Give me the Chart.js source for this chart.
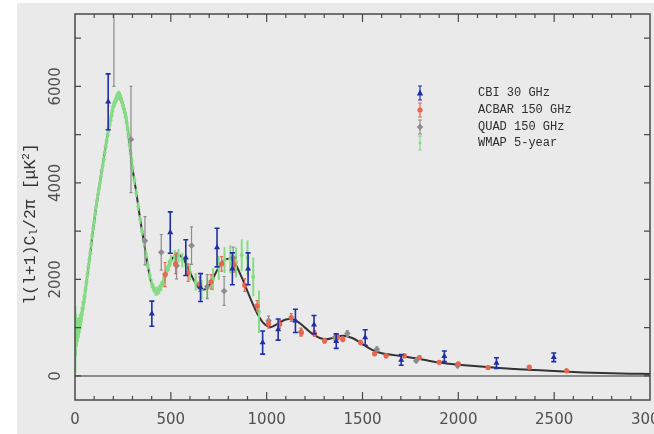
<!DOCTYPE html>
<html><head><meta charset="utf-8">
<script src="https://cdn.jsdelivr.net/npm/chart.js@4.4.1/dist/chart.umd.min.js"></script>
<style>html,body{margin:0;padding:0;background:#fff;}canvas{display:block;}</style>
</head><body>
<canvas id="c" width="654" height="434"></canvas>
<script>
// ---- data ----
const xTickLabels = [0, 500, 1000, 1500, 2000, 2500, 3000];
const yTickLabels = [0, 2000, 4000, 6000];
const legendLabels = ["CBI 30 GHz", "ACBAR 150 GHz", "QUAD 150 GHz", "WMAP 5-year"];

const theoryEll = [2,10,20,30,40,50,60,70,80,90,100,110,120,130,140,150,160,170,180,190,200,210,220,230,240,250,260,270,280,290,300,320,340,360,380,400,420,440,460,480,500,520,540,560,580,600,620,640,660,680,700,720,740,760,780,800,820,840,860,880,900,920,940,960,980,1000,1020,1050,1100,1150,1200,1250,1300,1350,1400,1450,1500,1550,1600,1650,1700,1750,1800,1850,1900,1950,2000,2100,2200,2300,2400,2500,2600,2700,2800,2900,3000];
const theoryVal = [700,800,950,1150,1400,1650,1950,2250,2550,2900,3200,3500,3750,4000,4250,4500,4750,5000,5200,5400,5580,5700,5790,5810,5750,5620,5450,5250,4950,4620,4300,3800,3250,2760,2280,1900,1740,1780,1960,2180,2380,2490,2510,2450,2320,2150,1980,1850,1790,1800,1880,2020,2180,2320,2400,2430,2400,2300,2130,1950,1750,1560,1380,1230,1110,1040,1010,1060,1170,1150,1000,840,760,790,830,780,660,540,470,440,410,380,350,310,275,250,230,200,170,140,120,100,80,65,55,45,40];

const cbiEll = [173,401,497,578,655,741,821,903,979,1060,1150,1247,1363,1514,1702,1927,2199,2498];
const cbiVal = [5680,1290,2970,2450,1830,2660,2220,2220,690,960,1140,1060,720,795,330,405,265,385];
const cbiErr = [580,260,430,370,290,400,330,330,240,220,240,190,150,160,110,110,110,90];

const acbarEll = [470,525,590,650,710,765,830,885,950,1010,1068,1128,1181,1250,1302,1370,1397,1490,1563,1623,1719,1797,1900,2000,2155,2370,2565];
const acbarVal = [2100,2320,2140,1900,1950,2320,2300,1880,1450,1080,1070,1210,900,880,730,800,760,690,460,415,415,380,280,250,172,180,105];
const acbarErr = [250,200,180,150,150,150,150,130,110,90,80,80,70,60,50,50,50,45,40,35,35,30,30,30,30,30,35];

const quadEll = [203,292,365,450,530,608,690,778,825,1010,1178,1356,1421,1575,1780,1996];
const quadVal = [8200,4900,2800,2560,2280,2700,1850,1760,2450,1140,910,795,880,550,315,210];
const quadErr = [2200,1100,500,370,270,390,250,300,220,100,80,60,60,50,40,40];

const wmapEll = [2,5,10,15,20,25,30,35,40,45,50,55,60,65,70,75,80,85,90,95,100,105,110,115,120,125,130,135,140,145,150,155,160,165,170,175,180,185,190,195,200,205,210,215,220,225,230,235,240,245,250,255,260,265,270,275,280,285,290,295,300,310,320,330,340,350,360,370,380,390,400,410,420,430,440,450,460,470,480,490,500,520,540,560,580,600,630,660,690,720,750,780,810,840,870,900,930,960];
const wmapVal = [750,850,900,950,1000,1080,1150,1270,1400,1520,1650,1800,1950,2100,2260,2400,2540,2720,2900,3050,3190,3350,3500,3630,3760,3880,4000,4130,4260,4370,4490,4630,4760,4880,5000,5100,5210,5300,5390,5490,5590,5640,5690,5740,5790,5810,5820,5790,5740,5680,5600,5530,5460,5360,5240,5110,4960,4790,4610,4460,4310,4050,3790,3510,3240,3000,2770,2520,2290,2080,1910,1820,1750,1760,1790,1860,1950,2060,2180,2290,2390,2480,2490,2400,2300,2150,1950,1790,1820,2000,2240,2400,2420,2350,2500,2450,2050,1330];
const wmapErr = [700,450,300,250,220,200,180,160,150,140,130,120,110,105,100,95,90,88,85,82,80,80,80,78,75,75,75,75,75,75,75,75,75,78,80,80,80,80,80,82,85,85,85,88,90,90,90,90,90,92,95,95,95,98,100,100,100,100,100,100,100,95,90,90,90,90,90,90,90,90,90,90,90,95,100,100,100,105,110,115,120,130,140,150,160,170,180,200,220,230,250,270,290,310,330,360,400,440];

// ---- styles ----
const COL_CBI = '#1f2fa6', COL_ACBAR = '#e8664e', COL_QUAD = '#8c8c8c', COL_WMAP = '#86dc86';
const pts = (xs, ys) => xs.map((x, i) => ({x: x, y: ys[i]}));

const errPlugin = {
  id: 'errbars',
  beforeDatasetDraw(chart, args) {
    const ds = chart.data.datasets[args.index];
    if (!ds.err) return;
    const {ctx, chartArea: a} = chart;
    const xs = chart.scales.x, ys = chart.scales.y;
    ctx.save();
    ctx.beginPath(); ctx.rect(a.left, a.top, a.right - a.left, a.bottom - a.top); ctx.clip();
    ctx.strokeStyle = ds.errColor || ds.borderColor;
    ctx.lineWidth = ds.errWidth || 1.5;
    ds.data.forEach((p, i) => {
      const px = xs.getPixelForValue(p.x);
      const y1 = ys.getPixelForValue(p.y - ds.err[i]);
      const y2 = ys.getPixelForValue(p.y + ds.err[i]);
      ctx.beginPath();
      ctx.moveTo(px, y1); ctx.lineTo(px, y2);
      if (ds.cap) {
        ctx.moveTo(px - ds.cap, y1); ctx.lineTo(px + ds.cap, y1);
        ctx.moveTo(px - ds.cap, y2); ctx.lineTo(px + ds.cap, y2);
      }
      ctx.stroke();
    });
    ctx.restore();
  }
};

const decoPlugin = {
  id: 'deco',
  beforeDraw(chart) {
    const ctx = chart.ctx;
    ctx.save();
    ctx.fillStyle = '#ffffff'; ctx.fillRect(0, 0, chart.width, chart.height);
    ctx.fillStyle = '#eaeaea'; ctx.fillRect(17, 3, chart.width - 17, chart.height - 3);
    ctx.restore();
  },
  beforeDatasetsDraw(chart) {
    const {ctx, chartArea: a} = chart;
    const y0 = chart.scales.y.getPixelForValue(0);
    ctx.save();
    ctx.strokeStyle = '#6a6a6a'; ctx.lineWidth = 1.5;
    ctx.beginPath(); ctx.moveTo(a.left, y0); ctx.lineTo(a.right, y0); ctx.stroke();
    ctx.restore();
  },
  afterDraw(chart) {
    const {ctx, chartArea: a} = chart;
    const xs = chart.scales.x, ys = chart.scales.y;
    ctx.save();
    // frame
    ctx.strokeStyle = '#4a4a4a'; ctx.lineWidth = 1.5;
    ctx.strokeRect(a.left, a.top, a.right - a.left, a.bottom - a.top);
    // ticks
    ctx.lineWidth = 1.2;
    for (let v = 100; v < 3000; v += 100) {
      const px = xs.getPixelForValue(v);
      const len = (v % 500 === 0) ? 8 : 4;
      ctx.beginPath();
      ctx.moveTo(px, a.bottom); ctx.lineTo(px, a.bottom - len);
      ctx.moveTo(px, a.top); ctx.lineTo(px, a.top + len);
      ctx.stroke();
    }
    for (let v = 0; v <= 7000; v += 1000) {
      const py = ys.getPixelForValue(v);
      ctx.beginPath();
      ctx.moveTo(a.left, py); ctx.lineTo(a.left + 6, py);
      ctx.moveTo(a.right, py); ctx.lineTo(a.right - 6, py);
      ctx.stroke();
    }
    // tick labels
    ctx.fillStyle = '#505050';
    ctx.font = '15px "DejaVu Sans"';
    ctx.textAlign = 'center'; ctx.textBaseline = 'middle';
    xTickLabels.forEach(v => ctx.fillText(String(v), xs.getPixelForValue(v), 420));
    yTickLabels.forEach(v => {
      ctx.save();
      ctx.translate(56, ys.getPixelForValue(v));
      ctx.rotate(-Math.PI / 2);
      ctx.fillText(String(v), 0, 0);
      ctx.restore();
    });
    // y axis title
    ctx.save();
    ctx.translate(31, 224);
    ctx.rotate(-Math.PI / 2);
    ctx.fillStyle = '#333333';
    const big = '16.5px "Liberation Mono"', small = '11px "Liberation Mono"';
    const parts = [['l(l+1)C', big, 0], ['l', small, 3], ['/2π [μK', big, 0], ['2', small, -5], [']', big, 0]];
    let total = 0;
    parts.forEach(p => { ctx.font = p[1]; total += ctx.measureText(p[0]).width; });
    let xx = -total / 2;
    ctx.textAlign = 'left';
    parts.forEach(p => { ctx.font = p[1]; ctx.fillText(p[0], xx, p[2]); xx += ctx.measureText(p[0]).width; });
    ctx.restore();
    // legend
    const rows = [93, 110, 127, 143];
    const cols = [COL_CBI, COL_ACBAR, COL_QUAD, COL_WMAP];
    const sx = 420;
    rows.forEach((ry, i) => {
      ctx.strokeStyle = cols[i]; ctx.fillStyle = cols[i]; ctx.lineWidth = 1.2;
      ctx.beginPath(); ctx.moveTo(sx, ry - 7); ctx.lineTo(sx, ry + 7);
      ctx.moveTo(sx - 2, ry - 7); ctx.lineTo(sx + 2, ry - 7);
      ctx.moveTo(sx - 2, ry + 7); ctx.lineTo(sx + 2, ry + 7); ctx.stroke();
      ctx.beginPath();
      if (i === 0) { ctx.moveTo(sx, ry - 3.5); ctx.lineTo(sx + 3.2, ry + 2.5); ctx.lineTo(sx - 3.2, ry + 2.5); ctx.closePath(); }
      else if (i === 1) { ctx.arc(sx, ry, 2.6, 0, Math.PI * 2); }
      else if (i === 2) { ctx.moveTo(sx, ry - 3.3); ctx.lineTo(sx + 3.3, ry); ctx.lineTo(sx, ry + 3.3); ctx.lineTo(sx - 3.3, ry); ctx.closePath(); }
      else { ctx.arc(sx, ry, 1.5, 0, Math.PI * 2); }
      ctx.fill();
      ctx.fillStyle = '#2e2e2e';
      ctx.font = '12px "Liberation Mono"';
      ctx.textAlign = 'left'; ctx.textBaseline = 'middle';
      ctx.fillText(legendLabels[i], 478, ry);
    });
    ctx.restore();
  }
};

new Chart(document.getElementById('c'), {
  type: 'scatter',
  data: {
    datasets: [
      {label: 'theory', type: 'line', data: pts(theoryEll, theoryVal), borderColor: '#333333', borderWidth: 2, pointRadius: 0, tension: 0.35, fill: false, order: 5},
      {label: legendLabels[3], data: pts(wmapEll, wmapVal), err: wmapErr, borderColor: COL_WMAP, backgroundColor: COL_WMAP, pointStyle: 'circle', pointRadius: 2, pointBorderWidth: 0, errWidth: 2, cap: 0, order: 4},
      {label: legendLabels[2], data: pts(quadEll, quadVal), err: quadErr, borderColor: COL_QUAD, backgroundColor: COL_QUAD, pointStyle: 'rectRot', pointRadius: 3.3, pointBorderWidth: 0, errWidth: 1.2, cap: 1.5, order: 3},
      {label: legendLabels[1], data: pts(acbarEll, acbarVal), err: acbarErr, borderColor: COL_ACBAR, backgroundColor: COL_ACBAR, pointStyle: 'circle', pointRadius: 2.6, pointBorderWidth: 0, errWidth: 1.2, cap: 1.5, order: 2},
      {label: legendLabels[0], data: pts(cbiEll, cbiVal), err: cbiErr, borderColor: COL_CBI, backgroundColor: COL_CBI, pointStyle: 'triangle', pointRadius: 3.5, pointBorderWidth: 0, errWidth: 1.6, cap: 2.5, order: 1}
    ]
  },
  options: {
    responsive: false, animation: false, devicePixelRatio: 1,
    layout: {padding: {left: 0, right: 3, top: 14, bottom: 0}},
    plugins: {legend: {display: false}, tooltip: {enabled: false}},
    scales: {
      x: {type: 'linear', min: 0, max: 3000, ticks: {display: false}, grid: {display: false}, border: {display: false},
          afterFit: s => { s.height = 34; }},
      y: {type: 'linear', min: -500, max: 7500, ticks: {display: false}, grid: {display: false}, border: {display: false},
          afterFit: s => { s.width = 75; }}
    }
  },
  plugins: [errPlugin, decoPlugin]
});
</script>
</body></html>
